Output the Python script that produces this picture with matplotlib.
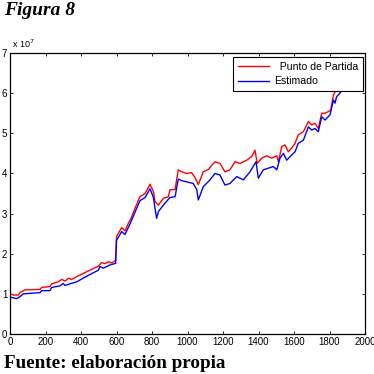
import numpy as np
import matplotlib.pyplot as plt

# values (y in units of 1e7)
x_partida = [0, 20, 47, 56, 85, 169, 178, 225, 235, 272, 291, 310, 329, 347, 376,
             404, 432, 460, 498, 516, 535, 554, 573, 595, 600, 612, 629, 648, 667,
             680, 704, 732, 761, 789, 808, 817, 836, 864, 892, 901, 930, 948, 967,
             995, 1023, 1042, 1061, 1089, 1117, 1155, 1183, 1211, 1239, 1268, 1296,
             1334, 1362, 1380, 1393, 1418, 1446, 1474, 1503, 1512, 1531, 1549, 1568,
             1587, 1606, 1624, 1653, 1681, 1700, 1718, 1737, 1756, 1775, 1793, 1807,
             1822, 1837, 1850, 1870, 1890]
y_partida = [1.00, 0.97, 0.97, 1.03, 1.10, 1.11, 1.16, 1.18, 1.25, 1.30, 1.36, 1.32,
             1.39, 1.36, 1.43, 1.49, 1.55, 1.61, 1.69, 1.78, 1.75, 1.80, 1.77, 1.83,
             2.42, 2.52, 2.65, 2.57, 2.76, 2.86, 3.13, 3.42, 3.50, 3.73, 3.55, 3.30,
             3.21, 3.38, 3.42, 3.59, 3.60, 4.09, 4.04, 4.00, 4.02, 3.90, 3.72, 4.04,
             4.10, 4.29, 4.25, 4.04, 4.09, 4.29, 4.25, 4.33, 4.42, 4.58, 4.25, 4.38,
             4.44, 4.38, 4.44, 4.29, 4.67, 4.71, 4.54, 4.63, 4.75, 4.96, 5.04, 5.29,
             5.21, 5.25, 5.12, 5.50, 5.50, 5.54, 5.58, 5.95, 6.08, 6.20, 6.35, 6.45]

x_estimado = [0, 38, 56, 75, 169, 178, 225, 235, 282, 300, 310, 338, 376, 432, 498,
              507, 526, 563, 595, 600, 612, 629, 648, 676, 704, 732, 761, 789, 808,
              817, 826, 836, 864, 901, 930, 948, 967, 995, 1032, 1052, 1061, 1089,
              1127, 1155, 1183, 1211, 1239, 1277, 1315, 1352, 1386, 1399, 1427, 1455,
              1484, 1503, 1521, 1540, 1559, 1578, 1606, 1624, 1653, 1681, 1700, 1718,
              1737, 1756, 1775, 1803, 1822, 1831, 1840, 1859, 1875, 1890]
y_estimado = [0.92, 0.88, 0.93, 1.00, 1.03, 1.08, 1.08, 1.16, 1.20, 1.26, 1.21, 1.25,
              1.30, 1.44, 1.59, 1.68, 1.64, 1.72, 1.76, 2.33, 2.42, 2.55, 2.48, 2.74,
              3.03, 3.32, 3.40, 3.62, 3.40, 3.13, 2.88, 3.05, 3.21, 3.40, 3.42, 3.86,
              3.82, 3.79, 3.75, 3.60, 3.34, 3.67, 3.84, 4.00, 3.96, 3.71, 3.75, 3.92,
              3.84, 4.04, 4.29, 3.88, 4.09, 4.13, 4.17, 4.09, 4.38, 4.50, 4.33, 4.42,
              4.54, 4.75, 4.83, 5.16, 5.08, 5.12, 5.04, 5.41, 5.33, 5.46, 5.83, 5.75,
              5.91, 6.00, 6.15, 6.25]

x_ticks = np.arange(0, 2001, 200)
y_ticks = np.arange(0, 8, 1)

fig = plt.figure(figsize=(3.74, 3.74), dpi=100)
ax = fig.add_axes([10 / 374, 40 / 374, 355 / 374, 281 / 374])

ax.plot(x_partida, y_partida, color='red', lw=1.0, label='  Punto de Partida')
ax.plot(x_estimado, y_estimado, color='blue', lw=1.0, label='Estimado')

ax.set_xlim(0, 2000)
ax.set_ylim(0, 7)
ax.set_xticks(x_ticks)
ax.set_yticks(y_ticks)
ax.tick_params(direction='in', length=2.5, width=0.6, top=True, right=True,
               labelsize=7, pad=2)
for lbl in ax.get_xticklabels() + ax.get_yticklabels():
    lbl.set_family('Liberation Sans')
    lbl.set_clip_on(False)
for s in ax.spines.values():
    s.set_linewidth(0.9)

leg = ax.legend(loc='upper right', bbox_to_anchor=(363 / 374, 1 - 57 / 374),
                bbox_transform=fig.transFigure, borderaxespad=0,
                fancybox=False, framealpha=1, edgecolor='black', borderpad=0.45,
                handlelength=3.0, handletextpad=0.45, labelspacing=0.45,
                prop={'family': 'Liberation Sans', 'size': 7.6})
leg.get_frame().set_linewidth(0.8)

fig.text(12 / 374, 1 - 48 / 374, r'x 10$^{7}$', fontsize=6.5, family='Liberation Sans',
         va='baseline')
fig.text(4 / 374, 1 - 15 / 374, 'Figura 8', fontsize=14, family='Liberation Serif',
         weight='bold', style='italic', va='baseline')
fig.text(4 / 374, 1 - 368 / 374, 'Fuente: elaboración propia', fontsize=13.8,
         family='Liberation Serif', weight='bold', va='baseline')

fig.savefig('out.png', dpi=100)
